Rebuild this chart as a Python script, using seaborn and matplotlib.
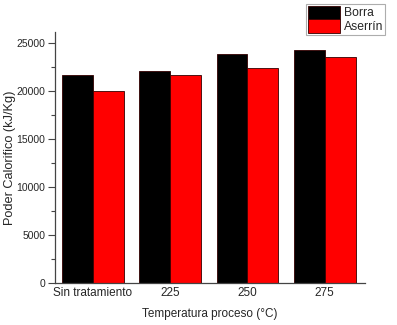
import numpy as np
import pandas as pd
import matplotlib
matplotlib.use('Agg')
import matplotlib.pyplot as plt
from matplotlib.ticker import MultipleLocator
import seaborn as sns

# datos
categorias = ['Sin tratamiento', '225', '250', '275']
borra = [21650, 22080, 23850, 24270]
aserrin = [20000, 21650, 22400, 23540]

df = pd.DataFrame({
    'Temperatura': categorias * 2,
    'Poder': borra + aserrin,
    'Material': ['Borra'] * 4 + ['Aserrín'] * 4,
})

sns.set_style('white')
plt.rcParams['font.family'] = ['Liberation Sans', 'DejaVu Sans']

fig = plt.figure(figsize=(3.97, 3.25), dpi=100)
ax = fig.add_axes([55 / 397, 42 / 325, 310 / 397, 251 / 325])

sns.barplot(data=df, x='Temperatura', y='Poder', hue='Material',
            palette=['black', '#ff0000'], width=0.8, edgecolor='#330000',
            linewidth=0.6, saturation=1, ax=ax)

ax.set_ylim(0, 26150)
ax.set_xlim(-0.49, 3.52)
ax.yaxis.set_major_locator(MultipleLocator(5000))
ax.yaxis.set_minor_locator(MultipleLocator(2500))
ax.tick_params(axis='y', which='major', direction='out', length=5, width=0.8,
               labelsize=7.5, left=True, color='#444444', pad=2)
ax.tick_params(axis='y', which='minor', direction='out', length=3, width=0.8,
               left=True, color='#444444')
ax.tick_params(axis='x', length=0, labelsize=8.5, pad=3)
for s in ['top', 'right']:
    ax.spines[s].set_visible(False)
for s in ['left', 'bottom']:
    ax.spines[s].set_color('#444444')
    ax.spines[s].set_linewidth(0.9)

ax.set_xlabel('Temperatura proceso (°C)', fontsize=8.5, labelpad=6)
ax.set_ylabel('Poder Calorifico (kJ/Kg)', fontsize=9.2, va='center')
ax.yaxis.set_label_coords(-0.145, 0.5)

leg = ax.legend(loc='upper left', bbox_to_anchor=(306 / 397, 1 - 4 / 325),
                bbox_transform=fig.transFigure, fontsize=8.7, frameon=True,
                fancybox=False, edgecolor='#999999', handlelength=2.7,
                handleheight=1.3, handletextpad=0.3, borderpad=0.15,
                labelspacing=0.0, borderaxespad=0)
leg.get_frame().set_linewidth(0.8)

fig.savefig('out.png', dpi=100)
